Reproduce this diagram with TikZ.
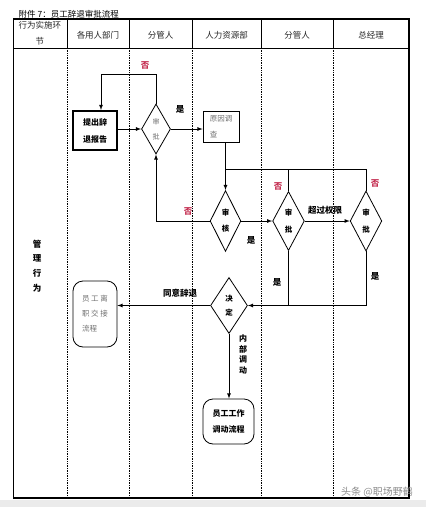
\documentclass[tikz,border=0pt]{standalone}
\usepackage{fontspec}
\setmainfont{Noto Sans CJK SC}
\usetikzlibrary{shapes.geometric}
\definecolor{nored}{RGB}{196,45,80}
\definecolor{inkgray}{RGB}{110,110,110}
\tikzset{box/.style={draw,line width=0.8pt,inner sep=0pt,align=center,font=\fontsize{7.5}{16}\selectfont}}
\tikzset{check/.style={draw,diamond,line width=0.8pt,inner sep=0pt,align=center,font=\fontsize{7}{15}\selectfont}}
\tikzset{flow/.style={draw,rounded corners=10pt,line width=0.8pt,inner sep=0pt,font=\fontsize{7.5}{15}\selectfont}}
\tikzset{lane/.style={densely dotted,line width=0.7pt}}
\tikzset{head/.style={font=\fontsize{8.5}{16}\selectfont,text=black!85}}
\tikzset{say/.style={font=\fontsize{8.5}{10}\selectfont\bfseries}}
\tikzset{no/.style={say,text=nored}}

\begin{document}
\begin{tikzpicture}[x=1pt,y=-1pt,>=latex,line width=0.8pt]
    \useasboundingbox (0,0) rectangle (426,507);
    \path [fill=black!8] (0,500) rectangle (426,507);
    % table frame
    \draw [line width=1.1pt] (13.5,19) rectangle (409,498);
    \draw (13.5,48) -- (409,48);
    \draw (67,19) -- (67,48);
    \draw (129,19) -- (129,48);
    \draw (192,19) -- (192,48);
    \draw (261,19) -- (261,48);
    \draw (333,19) -- (333,48);
    \draw [lane] (67,48) -- (67,498);
    \draw [lane] (129,48) -- (129,498);
    \draw [lane] (192,48) -- (192,498);
    \draw [lane] (261,48) -- (261,498);
    \draw [lane] (333,48) -- (333,498);

    \node [anchor=west, font=\fontsize{8.5}{10}\selectfont] (title) at (15,14) {附件 7：员工辞退审批流程};
    \node [head, align=center] (h0) at (40,33.5) {行为实施环\\节};
    \node [head] (h1) at (98,35) {各用人部门};
    \node [head] (h2) at (160.5,35) {分管人};
    \node [head] (h3) at (226.5,35) {人力资源部};
    \node [head] (h4) at (297,35) {分管人};
    \node [head] (h5) at (371,35) {总经理};
    \node [say, align=center, font=\fontsize{8.5}{14.7}\selectfont\bfseries] (act) at (37,266) {管\\理\\行\\为};

    \node [box, line width=2pt, minimum width=44pt, minimum height=39pt, font=\fontsize{8}{17}\selectfont\bfseries] (rpt) at (95,130.5) {提出辞\\退报告};
    \node [check, minimum width=29pt, minimum height=50pt, text=inkgray] (ap1) at (156,129) {审\\批};
    \node [box, minimum width=36pt, minimum height=31pt, align=left, text=inkgray] (cause) at (221,126.5) {原因调\\查};
    \node [check, minimum width=29pt, minimum height=61pt, font=\fontsize{7.5}{16}\selectfont\bfseries] (chk) at (225.5,221) {审\\核};
    \node [check, minimum width=29pt, minimum height=59pt, font=\fontsize{7.5}{17}\selectfont\bfseries] (ap2) at (288.5,221) {审\\批};
    \node [check, minimum width=29pt, minimum height=60pt, font=\fontsize{7.5}{17}\selectfont\bfseries] (ap3) at (366,221) {审\\批};
    \node [check, minimum width=37pt, minimum height=56pt, font=\fontsize{7.5}{14}\selectfont\bfseries] (dec) at (229,305.5) {决\\定};
    \node [flow, minimum width=44pt, minimum height=66pt, align=left, text=inkgray] (leave) at (95,314) {员 工 离\\职 交 接\\流程};
    \node [flow, minimum width=51pt, minimum height=45pt, align=center, font=\fontsize{8}{16}\selectfont\bfseries] (move) at (228.5,421.5) {员工工作\\调动流程};

    \coordinate (loop) at (101,74);
    \coordinate (rise) at (0,169);

    \draw [->] (rpt.east |- ap1) -- (ap1.west);
    \draw [->] (ap1.east) -- (ap1.east -| cause.west);
    \draw [->] (ap1.north) |- (loop) -- (loop |- rpt.north);
    \draw [->] (chk.west) -| (ap1.south);
    \draw [->] (chk.north |- cause.south) -- (chk.north);
    \draw (chk.north |- rise) -| (ap3.north);
    \draw (ap2.north) -- (ap2.north |- rise);
    \draw [->] (chk.east) -- (ap2.west);
    \draw [->] (ap2.east) -- (ap3.west);
    \draw [->] (ap3.south) |- (dec.east);
    \draw (ap2.south) -- (ap2.south |- dec.east);
    \draw [->] (dec.west) -- (dec.west -| leave.east);
    \draw [->] (dec.south) -- (dec.south |- move.north);

    \node [no] (no1) at (145,65) {否};
    \node [say] (yes1) at (180,109) {是};
    \node [no] (no2) at (188,211) {否};
    \node [no] (no3) at (278,186) {否};
    \node [no] (no4) at (375,183) {否};
    \node [say] (yes2) at (251,240) {是};
    \node [say] (over) at (325,210) {超过权限};
    \node [say] (yes3) at (277,282) {是};
    \node [say] (yes4) at (375,276) {是};
    \node [say] (agree) at (180,293) {同意辞退};
    \node [say, align=center, font=\fontsize{8}{10.5}\selectfont\bfseries] (inner) at (243,354.5) {内\\部\\调\\动};

    \node [text=black!45, font=\fontsize{10}{12}\selectfont] (wm) at (377,492) {头条 @职场野鹤};
\end{tikzpicture}
\end{document}
